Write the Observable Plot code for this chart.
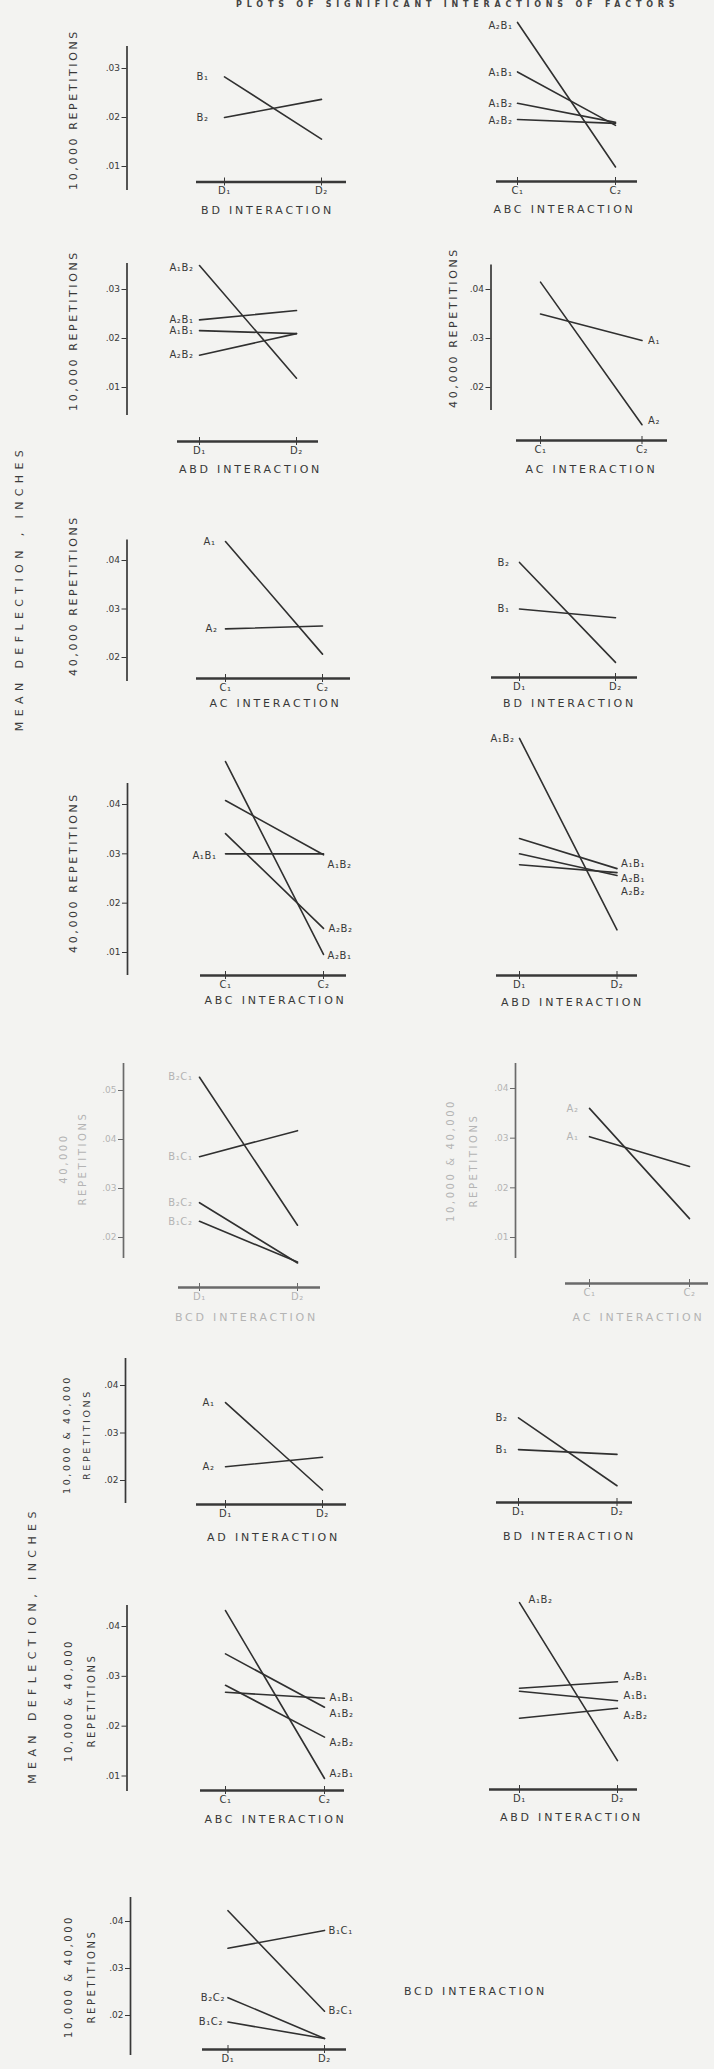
<!DOCTYPE html>
<html>
<head>
<meta charset="utf-8">
<script src="https://cdn.jsdelivr.net/npm/d3@7"></script>
<script src="https://cdn.jsdelivr.net/npm/@observablehq/plot@0.6"></script>
<style>
  html, body { margin: 0; padding: 0; background: #f3f3f1; }
  #page { position: relative; width: 714px; height: 2069px; overflow: hidden; background: #f3f3f1;
          font-family: "DejaVu Sans", "Liberation Sans", sans-serif; color: #3c3c3c; }
  .vlab { position: absolute; white-space: nowrap; transform: translate(-50%, -50%) rotate(-90deg);
          font-size: 11px; letter-spacing: 5.4px; color: #3c3c3c; }
  .toptitle { position: absolute; top: 0px; left: 236px; font-size: 8px; line-height: 9px; letter-spacing: 4.8px;
              white-space: nowrap; color: #444; font-weight: bold; }
</style>
</head>
<body>
<div id="page">
  <div class="toptitle">PLOTS OF SIGNIFICANT INTERACTIONS OF FACTORS</div>
  <div class="vlab" style="left:19px; top:588px;">MEAN DEFLECTION , INCHES</div>
  <div class="vlab" style="left:32px; top:1645px;">MEAN DEFLECTION, INCHES</div>
</div>
<script>
// ---------------- DATA ----------------
const levels = [1, 2];
const dLabels = ["D₁", "D₂"];
const cLabels = ["C₁", "C₂"];

const ticks123 = [0.01, 0.02, 0.03];
const ticks234 = [0.02, 0.03, 0.04];
const ticks1234 = [0.01, 0.02, 0.03, 0.04];
const ticks2345 = [0.02, 0.03, 0.04, 0.05];

// Row 1 left: BD interaction, 10,000 repetitions
const r1L_series = ["B₁", "B₂"];
const r1L_values = [[0.0283, 0.0156], [0.0200, 0.0237]];
// Row 1 right: ABC interaction
const r1R_series = ["A₂B₁", "A₁B₁", "A₁B₂", "A₂B₂"];
const r1R_values = [[0.0394, 0.0099], [0.0293, 0.0184], [0.0229, 0.0190], [0.0196, 0.0188]];
// Row 2 left: ABD interaction, 10,000 repetitions
const r2L_series = ["A₁B₂", "A₂B₁", "A₁B₁", "A₂B₂"];
const r2L_values = [[0.0349, 0.0119], [0.0238, 0.0257], [0.0216, 0.0210], [0.0166, 0.0210]];
// Row 2 right: AC interaction, 40,000 repetitions
const r2R_series = ["A₁", "A₂"];
const r2R_values = [[0.0350, 0.0296], [0.0415, 0.0124]];
// Row 3 left: AC interaction, 40,000 repetitions
const r3L_series = ["A₁", "A₂"];
const r3L_values = [[0.0439, 0.0207], [0.0259, 0.0265]];
// Row 3 right: BD interaction
const r3R_series = ["B₂", "B₁"];
const r3R_values = [[0.0396, 0.0190], [0.0300, 0.0282]];
// Row 4 left: ABC interaction, 40,000 repetitions
const r4L_series = ["A₁B₁", "A₁B₂", "A₂B₂", "A₂B₁"];
const r4L_values = [[0.0300, 0.0300], [0.0408, 0.0298], [0.0341, 0.0149], [0.0487, 0.0096]];
// Row 4 right: ABD interaction
const r4R_series = ["A₁B₂", "A₁B₁", "A₂B₁", "A₂B₂"];
const r4R_values = [[0.0534, 0.0146], [0.0331, 0.0270], [0.0300, 0.0256], [0.0278, 0.0262]];
// Row 5 left: BCD interaction, 40,000 repetitions
const r5L_series = ["B₂C₁", "B₁C₁", "B₂C₂", "B₁C₂"];
const r5L_values = [[0.0527, 0.0225], [0.0365, 0.0418], [0.0271, 0.0148], [0.0233, 0.0150]];
// Row 5 right: AC interaction, 10,000 & 40,000 repetitions
const r5R_series = ["A₂", "A₁"];
const r5R_values = [[0.0360, 0.0138], [0.0303, 0.0243]];
// Row 6 left: AD interaction, 10,000 & 40,000 repetitions
const r6L_series = ["A₁", "A₂"];
const r6L_values = [[0.0364, 0.0180], [0.0229, 0.0249]];
// Row 6 right: BD interaction
const r6R_series = ["B₂", "B₁"];
const r6R_values = [[0.0332, 0.0189], [0.0265, 0.0255]];
// Row 7 left: ABC interaction, 10,000 & 40,000 repetitions
const r7L_series = ["A₁B₁", "A₁B₂", "A₂B₂", "A₂B₁"];
const r7L_values = [[0.0268, 0.0256], [0.0345, 0.0238], [0.0282, 0.0178], [0.0432, 0.0095]];
// Row 7 right: ABD interaction
const r7R_series = ["A₁B₂", "A₂B₁", "A₁B₁", "A₂B₂"];
const r7R_values = [[0.0448, 0.0131], [0.0276, 0.0289], [0.0270, 0.0251], [0.0216, 0.0236]];
// Row 8: BCD interaction, 10,000 & 40,000 repetitions
const r8_series = ["B₂C₁", "B₁C₁", "B₂C₂", "B₁C₂"];
const r8_values = [[0.0423, 0.0209], [0.0343, 0.0381], [0.0238, 0.0151], [0.0186, 0.0151]];

// ---------------- LAYOUT (page pixel positions, styles) ----------------
const ref1 = [0.03, 68, 0.01, 166];
const ref3 = [0.04, 560, 0.02, 657];
const ref4 = [0.04, 804, 0.01, 952];
const ref6 = [0.04, 1385, 0.02, 1480];
const ref7 = [0.04, 1626, 0.01, 1775.5];

const panels = [
  { series: r1L_series, values: r1L_values, xLabels: dLabels, title: "BD INTERACTION",
    yRef: ref1, levelPx: [224, 321], xAxis: {y: 181.5, x0: 196, x1: 346},
    yAxis: {x: 126.5, top: 46, bottom: 190, ticks: ticks123}, top: 46, titlePos: [267, 210],
    yTitles: [["10,000 REPETITIONS", 73, 109, 11]],
    labels: [["start", -16, 0], ["start", -16, 0]] },
  { series: r1R_series, values: r1R_values, xLabels: cLabels, title: "ABC INTERACTION",
    yRef: ref1, levelPx: [517, 615], xAxis: {y: 181, x0: 496, x1: 637}, top: 15, titlePos: [564, 209],
    labels: [["start", -5, 3], ["start", -5, 1], ["start", -5, 1], ["start", -5, 1]] },
  { series: r2L_series, values: r2L_values, xLabels: dLabels, title: "ABD INTERACTION",
    yRef: [0.03, 289, 0.01, 387], levelPx: [199, 296], xAxis: {y: 441, x0: 177, x1: 318},
    yAxis: {x: 126.5, top: 263, bottom: 415, ticks: ticks123}, top: 263, titlePos: [250, 469],
    yTitles: [["10,000 REPETITIONS", 73, 330, 11]],
    labels: [["start", -6, 2], ["start", -6, 0], ["start", -6, 0], ["start", -6, 0]] },
  { series: r2R_series, values: r2R_values, xLabels: cLabels, title: "AC INTERACTION",
    yRef: [0.04, 289, 0.02, 387], levelPx: [540, 641.5], xAxis: {y: 440, x0: 516, x1: 667},
    yAxis: {x: 490.5, top: 264.5, bottom: 410, ticks: ticks234}, top: 264, titlePos: [591, 469],
    yTitles: [["40,000 REPETITIONS", 453, 327, 11]],
    labels: [["end", 6, 0], ["end", 6, -4]] },
  { series: r3L_series, values: r3L_values, xLabels: cLabels, title: "AC INTERACTION",
    yRef: ref3, levelPx: [225, 322], xAxis: {y: 678, x0: 196, x1: 350},
    yAxis: {x: 126.5, top: 539.5, bottom: 681, ticks: ticks234}, top: 539, titlePos: [275, 703],
    yTitles: [["40,000 REPETITIONS", 73, 595, 11]],
    labels: [["start", -10, 0], ["start", -8, 0]] },
  { series: r3R_series, values: r3R_values, xLabels: dLabels, title: "BD INTERACTION",
    yRef: ref3, levelPx: [519, 615], xAxis: {y: 677, x0: 491, x1: 637}, top: 550, titlePos: [569, 703],
    labels: [["start", -10, 0], ["start", -10, 0]] },
  { series: r4L_series, values: r4L_values, xLabels: cLabels, title: "ABC INTERACTION",
    yRef: ref4, levelPx: [225, 323], xAxis: {y: 975, x0: 200, x1: 346},
    yAxis: {x: 127, top: 783, bottom: 975, ticks: ticks1234}, top: 783, titlePos: [275, 1000],
    yTitles: [["40,000 REPETITIONS", 73, 872, 11]],
    labels: [["start", -9, 2], ["end", 4, 10], ["end", 5, 0], ["end", 4, 1]] },
  { series: r4R_series, values: r4R_values, xLabels: dLabels, title: "ABD INTERACTION",
    yRef: ref4, levelPx: [519, 616.5], xAxis: {y: 975, x0: 496, x1: 637}, top: 730, titlePos: [572, 1002],
    labels: [["start", -5, 0], ["end", 4, -5], ["end", 4, 3], ["end", 4, 19]] },
  { series: r5L_series, values: r5L_values, xLabels: dLabels, title: "BCD INTERACTION", faded: true,
    yRef: [0.05, 1090, 0.02, 1237], levelPx: [199, 297], xAxis: {y: 1287, x0: 178, x1: 320},
    yAxis: {x: 123, top: 1063, bottom: 1258, ticks: ticks2345}, top: 1063, titlePos: [246, 1317],
    yTitles: [["40,000", 63, 1158, 10], ["REPETITIONS", 82, 1158, 10]],
    labels: [["start", -7, 0], ["start", -7, 0], ["start", -7, 0], ["start", -7, 0]] },
  { series: r5R_series, values: r5R_values, xLabels: cLabels, title: "AC INTERACTION", faded: true,
    yRef: [0.04, 1088, 0.01, 1237], levelPx: [589, 689], xAxis: {y: 1283, x0: 565, x1: 708},
    yAxis: {x: 515, top: 1063, bottom: 1258, ticks: ticks1234}, top: 1063, titlePos: [638, 1317],
    yTitles: [["10,000 & 40,000", 450, 1160, 10], ["REPETITIONS", 473, 1160, 10]],
    labels: [["start", -11, 0], ["start", -11, 0]] },
  { series: r6L_series, values: r6L_values, xLabels: dLabels, title: "AD INTERACTION",
    yRef: ref6, levelPx: [225, 322], xAxis: {y: 1504, x0: 196, x1: 346},
    yAxis: {x: 125, top: 1358, bottom: 1503, ticks: ticks234}, top: 1358, titlePos: [273, 1537],
    yTitles: [["10,000 & 40,000", 66, 1434, 9.5], ["REPETITIONS", 86, 1434, 9.5]],
    labels: [["start", -11, 0], ["start", -11, 0]] },
  { series: r6R_series, values: r6R_values, xLabels: dLabels, title: "BD INTERACTION",
    yRef: ref6, levelPx: [518, 616.5], xAxis: {y: 1502, x0: 496, x1: 632}, top: 1400, titlePos: [569, 1536],
    labels: [["start", -11, 0], ["start", -11, 0]] },
  { series: r7L_series, values: r7L_values, xLabels: cLabels, title: "ABC INTERACTION",
    yRef: ref7, levelPx: [225, 324], xAxis: {y: 1790, x0: 200, x1: 344},
    yAxis: {x: 126.5, top: 1605, bottom: 1791, ticks: ticks1234}, top: 1605, titlePos: [275, 1819],
    yTitles: [["10,000 & 40,000", 68, 1700, 10], ["REPETITIONS", 91, 1700, 10]],
    labels: [["end", 5, 0], ["end", 5, 7], ["end", 5, 6], ["end", 5, -5]] },
  { series: r7R_series, values: r7R_values, xLabels: dLabels, title: "ABD INTERACTION",
    yRef: ref7, levelPx: [519, 617], xAxis: {y: 1789, x0: 489, x1: 637}, top: 1590, titlePos: [571, 1817],
    labels: [["start", 9, -3], ["end", 6, -5], ["end", 6, -5], ["end", 6, 8]] },
  { series: r8_series, values: r8_values, xLabels: dLabels, title: "BCD INTERACTION",
    yRef: [0.04, 1921, 0.02, 2015], levelPx: [227.5, 324], xAxis: {y: 2049, x0: 202, x1: 346},
    yAxis: {x: 130, top: 1897, bottom: 2055, ticks: ticks234}, top: 1897, titlePos: [475, 1991],
    yTitles: [["10,000 & 40,000", 68, 1976, 10], ["REPETITIONS", 91, 1976, 10]],
    labels: [["end", 4, 0], ["end", 4, 0], ["start", -3, 0], ["start", -5, 0]] }
];

// ---------------- DRAW ----------------
const page = document.getElementById("page");
const FONT = '"DejaVu Sans", "Liberation Sans", sans-serif';
const W = 714;

function drawPanel(p) {
  const [v1, py1, v2, py2] = p.yRef;
  const vAt = py => v1 + (py - py1) * (v2 - v1) / (py2 - py1);
  const [L1, L2] = p.levelPx;
  const xAt = px => 1 + (px - L1) / (L2 - L1);
  const fl = p.yAxis ? p.yAxis.x : p.xAxis.x0;
  const fr = p.xAxis.x1, fb = p.xAxis.y, ft = p.top;
  const svgTop = Math.floor(ft - 40);
  const svgBottom = Math.ceil(Math.max(fb, p.titlePos[1]) + 30);
  const textColor = p.faded ? "#b4b4b4" : "#383838";
  const axisColor = p.faded ? "#6a6a6a" : "#383838";
  const lineColor = "#303030";

  const rows = p.series.flatMap((s, i) =>
    levels.map((lv, j) => ({series: s, level: lv, value: p.values[i][j]})));

  const marks = [];
  if (p.yAxis) {
    marks.push(Plot.ruleX([xAt(fl)], {y1: vAt(p.yAxis.bottom), y2: vAt(p.yAxis.top), stroke: axisColor, strokeWidth: 1.7}));
    marks.push(Plot.axisY(p.yAxis.ticks, {anchor: "left", tickSize: 5, tickPadding: 2,
      tickFormat: d => d.toFixed(2).slice(1), fontSize: 9, label: null, stroke: axisColor, fill: textColor}));
  }
  // x axis line and ticks
  marks.push(Plot.ruleY([vAt(fb)], {x1: xAt(p.xAxis.x0), x2: xAt(fr), stroke: axisColor, strokeWidth: 2.6}));
  marks.push(Plot.ruleX(levels, {y1: vAt(fb), y2: vAt(fb - 4), stroke: axisColor, strokeWidth: 1}));
  marks.push(Plot.axisX(levels, {anchor: "bottom", tickSize: 4, tickPadding: 1,
    tickFormat: d => p.xLabels[d - 1], fontSize: 10, label: null, stroke: axisColor, fill: textColor}));
  // interaction lines
  marks.push(Plot.line(rows, {x: "level", y: "value", z: "series", stroke: lineColor, strokeWidth: 1.6}));
  // series labels
  p.labels.forEach(([side, dx, dy], i) => {
    const lv = side === "start" ? 1 : 2;
    const r = rows.filter(d => d.series === p.series[i] && d.level === lv);
    marks.push(Plot.text(r, {x: "level", y: "value", text: "series", dx, dy,
      textAnchor: dx < 0 ? "end" : "start", fontSize: 10, fill: textColor}));
  });
  // panel title
  marks.push(Plot.text([p.title], {x: () => xAt(p.titlePos[0]), y: () => vAt(p.titlePos[1]),
    text: d => d, fontSize: 11, fill: textColor}));
  // y titles
  (p.yTitles || []).forEach(([t, px, py, fs]) => {
    marks.push(Plot.text([t], {x: () => xAt(px), y: () => vAt(py), text: d => d,
      rotate: -90, fontSize: fs, fill: textColor}));
  });

  const svg = Plot.plot({
    width: W,
    height: svgBottom - svgTop,
    marginLeft: fl,
    marginRight: W - fr,
    marginTop: ft - svgTop,
    marginBottom: svgBottom - fb,
    x: {type: "linear", domain: [xAt(fl), xAt(fr)], axis: null},
    y: {type: "linear", domain: [vAt(fb), vAt(ft)], axis: null},
    style: {background: "transparent", fontFamily: FONT, overflow: "visible"},
    marks
  });
  d3.select(svg).selectAll("text").each(function () {
    const t = this.textContent;
    if (/INTERACTION/.test(t)) this.setAttribute("letter-spacing", "2.8");
    else if (/REPETITIONS|,000/.test(t)) this.setAttribute("letter-spacing", "2.6");
    else if (/[₁₂]/.test(t)) this.setAttribute("letter-spacing", "0.6");
  });
  svg.style.position = "absolute";
  svg.style.left = "0px";
  svg.style.top = svgTop + "px";
  svg.style.maxWidth = "none";
  page.appendChild(svg);
}

panels.forEach(drawPanel);
</script>
</body>
</html>
